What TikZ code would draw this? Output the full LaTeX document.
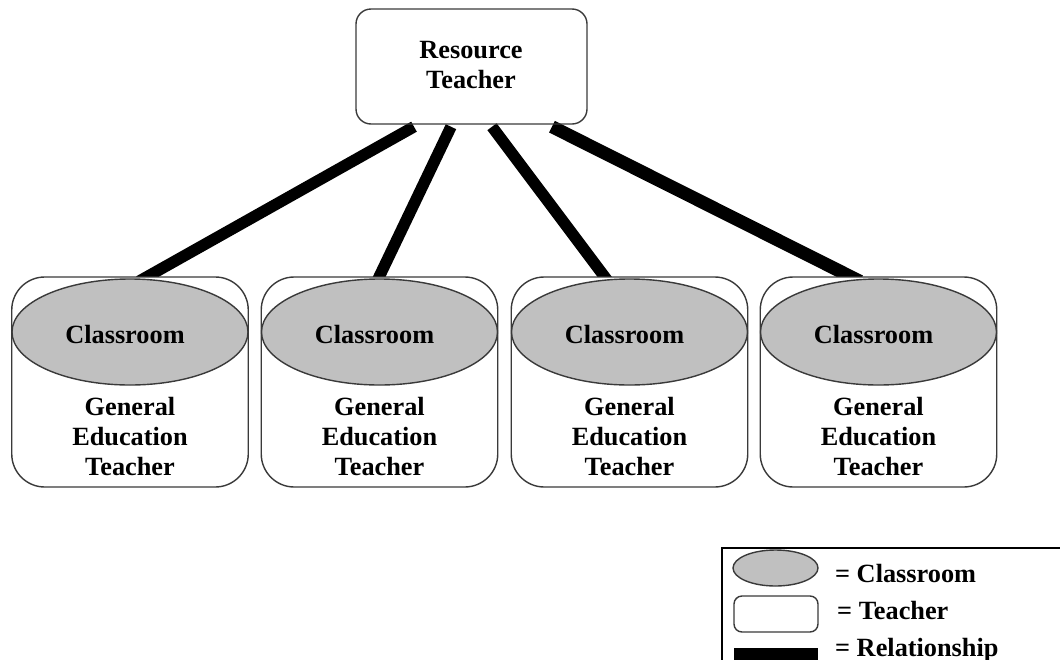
\documentclass[tikz,border=0pt]{standalone}
\usepackage{fontspec}
\setmainfont{Liberation Serif}
\usetikzlibrary{shapes.geometric}
\definecolor{roomgray}{HTML}{C0C0C0}
\definecolor{edgegray}{HTML}{3A3A3A}
\pgfdeclarelayer{background}
\pgfsetlayers{background,main}
\begin{document}
\begin{tikzpicture}[x=1pt,y=-1pt,
  font=\fontsize{26.3}{30}\selectfont\bfseries,
  tbox/.style={draw=edgegray, line width=1.4pt, rounded corners=33pt, fill=white,
    minimum width=236.5pt, minimum height=210pt, inner sep=0pt},
  rbox/.style={draw=edgegray, line width=1.4pt, rounded corners=15pt,
    minimum width=231pt, minimum height=115pt, inner sep=0pt},
  room/.style={ellipse, draw=edgegray, line width=1.4pt, fill=roomgray,
    minimum width=236pt, minimum height=106pt, inner sep=0pt},
  lbl/.style={anchor=base, inner sep=0pt},
  leglbl/.style={anchor=base west, inner sep=0pt},
  rel/.style={line width=11.5pt, black}]
\useasboundingbox (0,0) rectangle (1060,659);

% Resource teacher
\node[rbox] (rt) at (471.5,66.5) {};
\node[lbl] (rt1) at (471,58) {Resource};
\node[lbl] (rt2) at (471,88) {Teacher};

% General education teacher boxes with classrooms
\foreach \i/\x in {1/130,2/379.5,3/629.5,4/878.5}{
  \node[tbox] (g\i) at (\x,382) {};
  \node[room] (c\i) at (\x,332) {};
  \node[lbl] (cl\i) at ([xshift=-5pt]c\i.center |- 0,343) {Classroom};
  \node[lbl] (ga\i) at (\x,415) {General};
  \node[lbl] (gb\i) at (\x,445) {Education};
  \node[lbl] (gc\i) at (\x,475) {Teacher};
}

% connector end points
\coordinate (t1) at ([xshift=-57.5pt,yshift=-2pt]rt.south);
\coordinate (t2) at ([xshift=-20.5pt,yshift=-2pt]rt.south);
\coordinate (t3) at ([xshift=20.5pt,yshift=-2pt]rt.south);
\coordinate (t4) at ([xshift=80.5pt,yshift=-2pt]rt.south);
\coordinate (b1) at ([xshift=9pt,yshift=-5pt]g1.north);
\coordinate (b2) at ([xshift=-2.5pt,yshift=-5pt]g2.north);
\coordinate (b3) at ([xshift=-21.5pt,yshift=-5pt]g3.north);
\coordinate (b4) at ([xshift=-18.5pt,yshift=-5pt]g4.north);

\begin{pgfonlayer}{background}
  \draw[rel] (t1) -- (b1);
  \draw[rel] (t2) -- (b2);
  \draw[rel] (t3) -- (b3);
  \draw[rel, line width=13pt] (t4) -- (b4);
\end{pgfonlayer}

% Legend
\node[draw=black, line width=2.2pt, minimum width=350pt, minimum height=125pt,
  inner sep=0pt, anchor=north west] (leg) at (721,547) {};
\node[room, minimum width=85pt, minimum height=36pt] (le) at (775.5,568) {};
\node[tbox, rounded corners=8pt, minimum width=84pt, minimum height=36pt] (lt) at (776,614) {};
\node[fill=black, minimum width=84pt, minimum height=20pt, inner sep=0pt] (lr) at (776,658) {};
\node[leglbl] (lc) at (835,582) {= Classroom};
\node[leglbl] (ltx) at (837,619) {= Teacher};
\node[leglbl] (lrx) at (835,656) {= Relationship};
\end{tikzpicture}
\end{document}
